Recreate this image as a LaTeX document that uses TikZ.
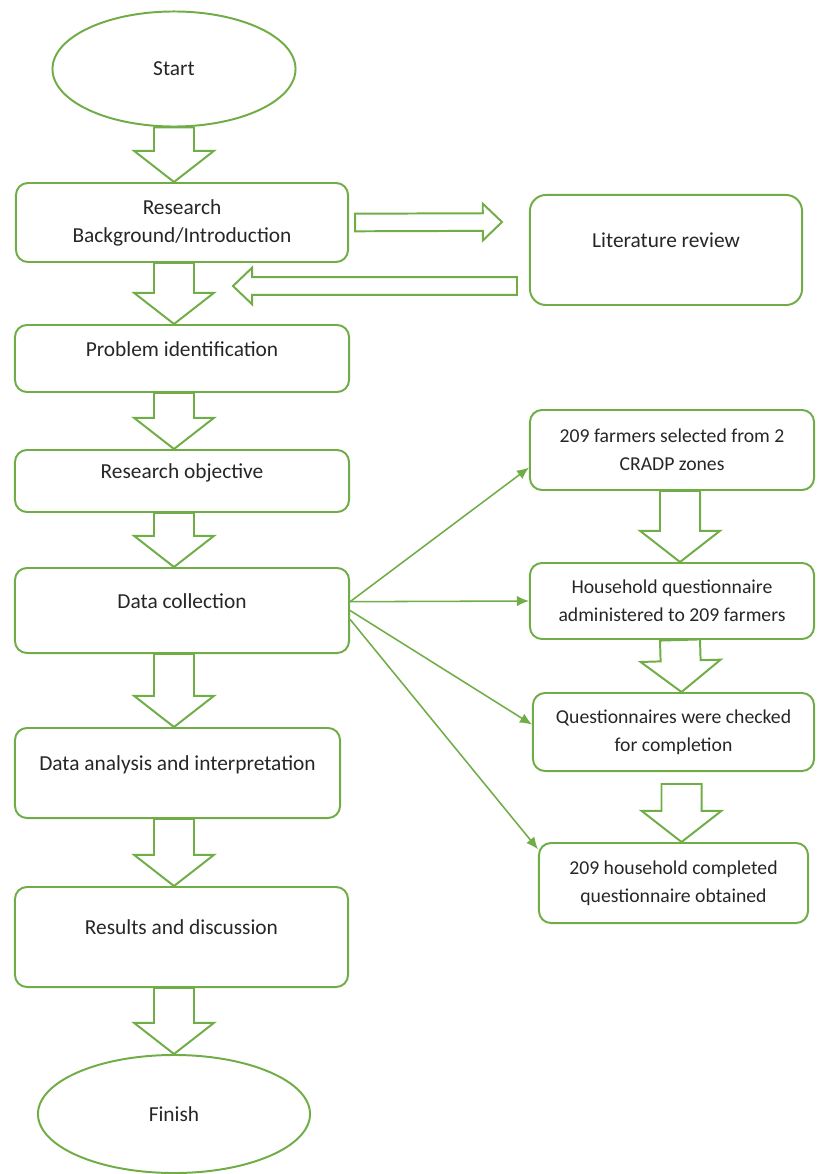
\documentclass[tikz,border=0pt]{standalone}
\usepackage{fontspec}
\setmainfont{Carlito}
\usetikzlibrary{shapes.geometric, calc, arrows.meta}
\definecolor{leaf}{HTML}{70AD47}
\definecolor{ink}{HTML}{262626}

% hollow block arrow: start, tip, shaft half width, head half width, head length
\newcommand{\blockarrow}[5]{%
    \path #1 coordinate (ba-s) #2 coordinate (ba-e);
    \path ($(ba-e)!#5!(ba-s)$) coordinate (ba-h);
    \draw[blk] ($(ba-s)!#3!90:(ba-e)$) -- ($(ba-h)!#3!90:(ba-e)$) -- ($(ba-h)!#4!90:(ba-e)$)
        -- (ba-e) -- ($(ba-h)!#4!-90:(ba-e)$) -- ($(ba-h)!#3!-90:(ba-e)$) -- ($(ba-s)!#3!-90:(ba-e)$) -- cycle;}
\newcommand{\vblock}[2]{\blockarrow{#1}{#2}{0.5cm}{1cm}{0.78cm}}
\newcommand{\hblock}[2]{\blockarrow{#1}{#2}{0.22cm}{0.46cm}{0.48cm}}

\begin{document}
\begin{tikzpicture}[
                x = 0.025cm, y = -0.025cm,
                every node/.style = {font = \fontsize{15.2}{20}\selectfont, text = ink},
                term/.style = {draw = leaf, line width = 1.4pt, ellipse, inner sep = 0mm},
                box/.style = {draw = leaf, line width = 1.4pt, rounded corners = 3mm, align = center, inner sep = 0mm},
                step box/.style = {box, font = \fontsize{14}{20}\selectfont},
                oneline/.style = {text depth = 14pt},
                blk/.style = {draw = leaf, line width = 1.4pt},
                arr/.style = {draw = leaf, line width = 1.1pt, -{Latex[length = 3mm, width = 2.6mm]}},
            ]
            \useasboundingbox (0, 0) rectangle (816, 1174);

            \node (st) at (174, 69) [term, minimum width = 6.075cm, minimum height = 2.875cm] {Start};
            \node (res) at (182, 222.5) [box, minimum width = 8.3cm, minimum height = 1.975cm] {Research\\Background/Introduction};
            \node (prob) at (182, 358.5) [box, oneline, minimum width = 8.35cm, minimum height = 1.675cm] {Problem identification};
            \node (obj) at (182, 481) [box, oneline, minimum width = 8.35cm, minimum height = 1.55cm] {Research objective};
            \node (dc) at (182, 610.5) [box, oneline, minimum width = 8.35cm, minimum height = 2.125cm] {Data collection};
            \node (ana) at (177.5, 773) [box, oneline, minimum width = 8.125cm, minimum height = 2.25cm] {Data analysis and interpretation};
            \node (rsd) at (181.5, 937) [box, oneline, minimum width = 8.325cm, minimum height = 2.5cm] {Results and discussion};
            \node (fin) at (174, 1114) [term, minimum width = 6.8cm, minimum height = 2.95cm] {Finish};

            \node (lit) at (666, 250) [box, oneline, rounded corners = 4mm, minimum width = 6.8cm, minimum height = 2.75cm] {Literature review};

            \node (farm) at (672, 450) [step box, minimum width = 7.1cm, minimum height = 2cm] {209 farmers selected from 2\\CRADP zones};
            \node (house) at (672, 601) [step box, minimum width = 7.1cm, minimum height = 1.9cm] {Household questionnaire\\administered to 209 farmers};
            \node (quest) at (673.5, 732) [step box, minimum width = 7.025cm, minimum height = 1.95cm] {Questionnaires were checked\\for completion};
            \node (obt) at (673.5, 883) [step box, minimum width = 6.725cm, minimum height = 2cm] {209 household completed\\questionnaire obtained};

            \coordinate (litin) at (502, 222);
            \coordinate (litout) at (517, 286);
            \coordinate (resin) at (233, 286);

            % main column
            \vblock{(st.south)}{(st.south |- res.north)}
            \vblock{(st.south |- res.south)}{(st.south |- prob.north)}
            \vblock{(st.south |- prob.south)}{(st.south |- obj.north)}
            \vblock{(st.south |- obj.south)}{(st.south |- dc.north)}
            \vblock{(st.south |- dc.south)}{(st.south |- ana.north)}
            \vblock{(st.south |- ana.south)}{(st.south |- rsd.north)}
            \vblock{(st.south |- rsd.south)}{(fin.north)}

            % literature loop
            \hblock{([xshift = 1.5mm]res.east)}{(litin)}
            \hblock{(litout)}{(resin)}

            % data collection steps
            \vblock{([xshift = 2mm]farm.south)}{([xshift = 2mm]house.north)}
            \vblock{([xshift = 2mm]house.south)}{([xshift = 2mm]quest.north)}
            \vblock{([xshift = 2mm, yshift = -3mm]quest.south)}{([xshift = 2mm]obt.north)}

            \path[arr] (dc.3) -- (farm.187);
            \path[arr] (dc.3) -- (house.west);
            \path[arr] (dc.east) -- (quest.177);
            \path[arr] (dc.-3) -- (obt.166);
        \end{tikzpicture}
\end{document}
